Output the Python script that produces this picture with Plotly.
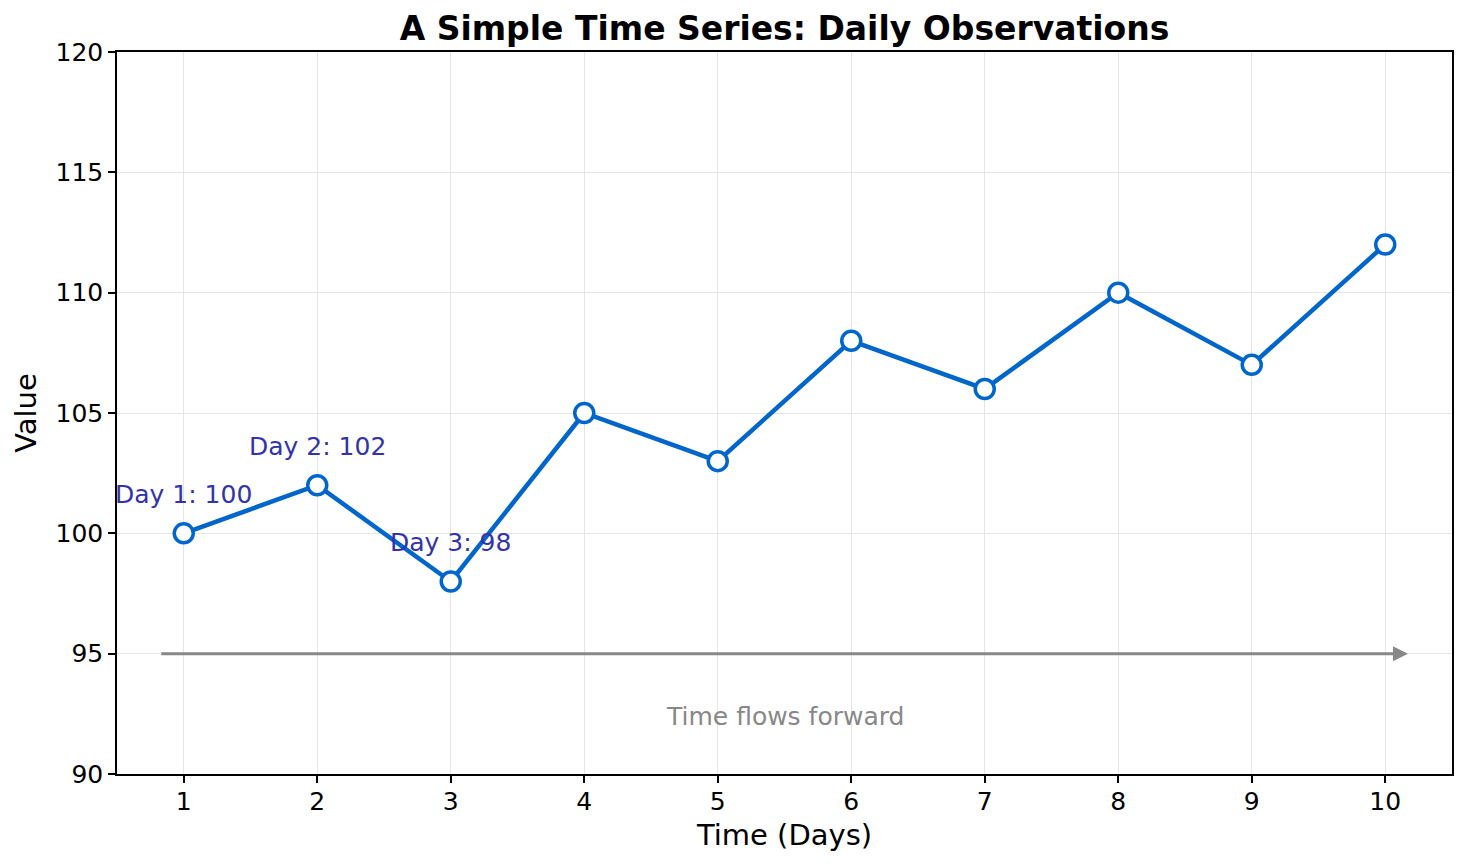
import plotly.graph_objects as go

days = [1, 2, 3, 4, 5, 6, 7, 8, 9, 10]
values = [100, 102, 98, 105, 103, 108, 106, 110, 107, 112]
x_ticks = [1, 2, 3, 4, 5, 6, 7, 8, 9, 10]
y_ticks = [90, 95, 100, 105, 110, 115, 120]

title = "A Simple Time Series: Daily Observations"
x_label = "Time (Days)"
y_label = "Value"
flow_text = "Time flows forward"

FONT = "DejaVu Sans"
BLUE = "#0066CC"
ANN = "#3333AA"
GREY = "#888888"

# page has an ~8px body margin; compensate so the figure sits like the reference
W, H = 1460, 859
ML, MR, MT, MB = 109, 16, 44, 93

fig = go.Figure()
fig.add_trace(go.Scatter(
    x=days, y=values, mode="lines+markers",
    line=dict(color=BLUE, width=4.5),
    marker=dict(size=19, color="white", line=dict(color=BLUE, width=3.5)),
    showlegend=False,
))

annotations = []
for d, v in zip(days[:3], values[:3]):
    annotations.append(dict(
        x=d, y=v, xref="x", yref="y", text=f"Day {d}: {v}",
        showarrow=False, yshift=39, xanchor="center", yanchor="middle",
        font=dict(family=FONT, size=25, color=ANN),
    ))

# arrow along the time axis
annotations.append(dict(
    x=10.17, y=95, ax=0.82, ay=95, xref="x", yref="y", axref="x", ayref="y",
    text="", showarrow=True, arrowhead=2, arrowsize=1.0, arrowwidth=3,
    arrowcolor=GREY,
))
annotations.append(dict(
    x=5.5, y=92.37, xref="x", yref="y", text=flow_text, showarrow=False,
    xanchor="center", yanchor="middle",
    font=dict(family=FONT, size=25, color=GREY),
))

fig.update_layout(
    width=W, height=H,
    margin=dict(l=ML, r=MR, t=MT, b=MB),
    paper_bgcolor="white", plot_bgcolor="white",
    title=dict(text=f"<b>{title}</b>", x=(ML + (W - MR)) / 2 / W, xanchor="center",
               y=1 - 20 / H, yanchor="middle", yref="container",
               font=dict(family=FONT, size=33, color="black")),
    font=dict(family=FONT, color="black"),
    annotations=annotations,
    xaxis=dict(
        range=[0.5, 10.5], tickvals=x_ticks, ticktext=[str(t) for t in x_ticks],
        showgrid=True, gridcolor="#e5e5e5", gridwidth=1,
        showline=True, linecolor="black", linewidth=1.5, mirror=True,
        ticks="outside", ticklen=7, tickwidth=1.5, tickcolor="black",
        ticklabelstandoff=-3,
        tickfont=dict(family=FONT, size=25, color="black"),
        title=dict(text=x_label, font=dict(family=FONT, size=29, color="black"), standoff=10),
        zeroline=False,
    ),
    yaxis=dict(
        range=[90, 120], tickvals=y_ticks,
        showgrid=True, gridcolor="#e5e5e5", gridwidth=1,
        showline=True, linecolor="black", linewidth=1.5, mirror=True,
        ticks="outside", ticklen=7, tickwidth=1.5, tickcolor="black",
        tickfont=dict(family=FONT, size=25, color="black"),
        title=dict(text=y_label, font=dict(family=FONT, size=29, color="black"), standoff=10),
        zeroline=False,
    ),
)

fig.write_html("out.html")
